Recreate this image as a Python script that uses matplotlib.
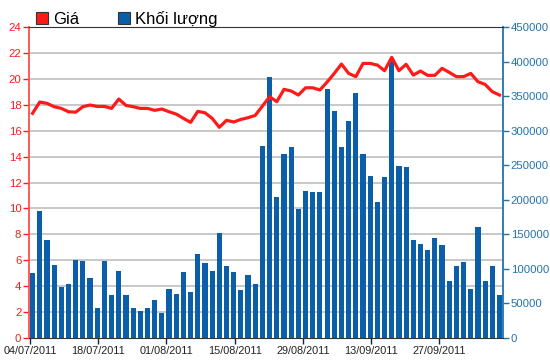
import matplotlib
matplotlib.use('Agg')
import matplotlib.pyplot as plt
from matplotlib.patches import Patch
import numpy as np

#price (left axis) and traded volume (right axis), one value per trading session
prices = [17.34, 18.21, 18.11, 17.85, 17.72, 17.46, 17.43, 17.85, 17.98, 17.87,
          17.87, 17.72, 18.44, 17.95, 17.85, 17.72, 17.72, 17.57, 17.67, 17.46,
          17.28, 16.95, 16.64, 17.49, 17.38, 16.95, 16.26, 16.80, 16.67, 16.87,
          17.00, 17.18, 17.90, 18.62, 18.24, 19.19, 19.06, 18.75, 19.31, 19.31,
          19.14, 19.75, 20.42, 21.14, 20.42, 20.17, 21.19, 21.19, 21.06, 20.63,
          21.66, 20.63, 21.12, 20.29, 20.60, 20.27, 20.27, 20.81, 20.50, 20.17,
          20.17, 20.42, 19.78, 19.57, 19.01, 18.75]

volumes = [93400, 183800, 142500, 105900, 73700, 78600, 113400, 111600, 86300, 44100,
           111600, 62300, 97100, 62300, 44100, 38800, 44100, 54900, 36600, 71300,
           64100, 95100, 66200, 121900, 108000, 96900, 151500, 104300, 95100, 69400,
           91100, 78600, 277700, 378200, 204000, 265700, 275800, 187100, 212600, 210800,
           210800, 359800, 328900, 275800, 314400, 354400, 265700, 234400, 196700, 232500,
           400700, 248800, 246900, 141800, 136500, 127300, 145100, 134100, 81900, 103700,
           109500, 71300, 160100, 81900, 103700, 62300]

dateLabels = ['04/07/2011', '18/07/2011', '01/08/2011', '15/08/2011',
              '29/08/2011', '13/09/2011', '27/09/2011']

legendLabels = ['Giá', 'Khối lượng']

priceColor = '#ff1a1a'
volColor = '#0b5ea8'
leftAxisColor = '#ff4d4d'
rightAxisColor = '#2273ad'

plt.rcParams['font.family'] = ['Liberation Sans', 'DejaVu Sans']

fig = plt.figure(figsize=(5.5, 3.64), dpi=100)
ax = fig.add_axes([0.0527, 0.0714, 0.862, 0.8544])
ax2 = ax.twinx()

x = np.arange(len(prices))

#volume bars go on the back axis together with the grid
ax2.bar(x, volumes, width=0.72, color=volColor, zorder=2)
for p in np.arange(2, 24, 2):
	ax2.axhline(p * 450000 / 24.0, color='#c8c8c8', lw=1.4, zorder=1)
ax2.set_ylim(0, 450000)
ax2.set_yticks(np.arange(0, 450001, 50000))

#price line on the front axis
ax.set_zorder(ax2.get_zorder() + 1)
ax.patch.set_visible(False)
ax.plot(x, prices, color=priceColor, lw=2.3, solid_joinstyle='round', zorder=3)
ax.set_ylim(0, 24)
ax.set_yticks(np.arange(0, 25, 2))
ax.set_xlim(-0.5, len(prices) - 0.5)

#date labels are spaced a bit less than 10 sessions apart in the original
ax.set_xticks([-0.36 + 9.5 * k for k in range(len(dateLabels))])
ax.set_xticklabels(dateLabels, fontsize=7.8)

#axis styling
ax.spines['left'].set_color(leftAxisColor)
ax.spines['left'].set_linewidth(1.3)
ax.spines['right'].set_visible(False)
ax.spines['top'].set_color('#333333')
ax.spines['bottom'].set_color('#333333')
ax.tick_params(axis='y', colors=priceColor, labelcolor=priceColor, labelsize=8.2, length=4, width=1, pad=1.5)
ax.tick_params(axis='x', colors='#222222', length=4, width=1, pad=2)
for lbl in ax.get_xticklabels():
	lbl.set_color('#222222')

ax2.spines['right'].set_color(rightAxisColor)
ax2.spines['right'].set_linewidth(1.3)
ax2.spines['left'].set_visible(False)
ax2.spines['top'].set_visible(False)
ax2.spines['bottom'].set_visible(False)
ax2.tick_params(axis='y', colors=rightAxisColor, labelcolor=rightAxisColor, labelsize=8.2, length=4, width=1, pad=1.5)

#legend at the top left
handles = [Patch(facecolor=priceColor, edgecolor='#333333', lw=0.8),
           Patch(facecolor=volColor, edgecolor='#333333', lw=0.8)]
fig.legend(handles, legendLabels, loc='upper left', bbox_to_anchor=(0.044, 1.003),
           ncol=2, frameon=False, fontsize=12, handlelength=0.75, handleheight=0.75,
           handletextpad=0.3, columnspacing=2.3, borderpad=0.2)

fig.savefig('out.png', dpi=100)
